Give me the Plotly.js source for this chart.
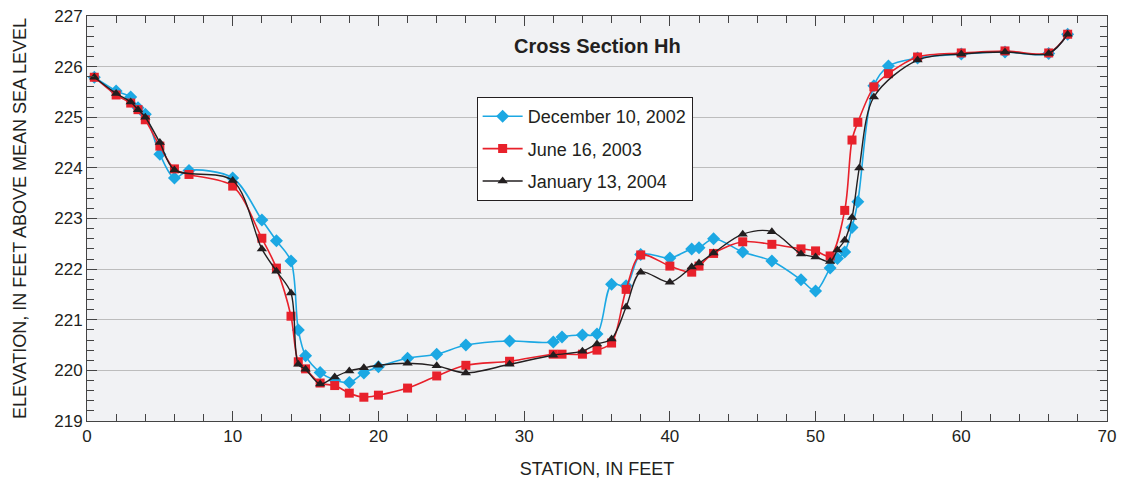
<!DOCTYPE html>
<html>
<head>
<meta charset="utf-8">
<script src="https://cdn.plot.ly/plotly-3.0.1.min.js"></script>
<style>html,body{margin:0;padding:0;background:#fff;}#chart{width:1126px;height:479px;}</style>
</head>
<body>
<div id="chart"></div>
<script>
// December 10, 2002
const decX = [0.5, 2, 3, 3.5, 4, 5, 6, 7, 10, 12, 13, 14, 14.5, 15, 16, 17, 18, 19, 20, 22, 24, 26, 29, 32, 32.6, 34, 35, 36, 37, 38, 40, 41.5, 42, 43, 45, 47, 49, 50, 51, 51.5, 52, 52.5, 52.9, 54, 55, 57, 60, 63, 66, 67.3];
const decY = [225.79, 225.52, 225.40, 225.19, 225.06, 224.27, 223.80, 223.95, 223.80, 222.97, 222.56, 222.16, 220.80, 220.29, 219.96, 219.81, 219.76, 219.95, 220.07, 220.24, 220.32, 220.50, 220.58, 220.56, 220.66, 220.70, 220.72, 221.70, 221.67, 222.29, 222.22, 222.40, 222.42, 222.60, 222.34, 222.16, 221.79, 221.57, 222.02, 222.21, 222.34, 222.82, 223.33, 225.62, 226.01, 226.17, 226.25, 226.29, 226.26, 226.64];
// June 16, 2003
const junX = [0.5, 2, 3, 3.5, 4, 5, 6, 7, 10, 12, 13, 14, 14.5, 15, 16, 17, 18, 19, 20, 22, 24, 26, 29, 32, 32.6, 34, 35, 36, 37, 38, 40, 41.5, 42, 43, 45, 47, 49, 50, 51, 52, 52.5, 52.9, 54, 55, 57, 60, 63, 66, 67.3];
const junY = [225.79, 225.44, 225.28, 225.15, 224.95, 224.43, 223.98, 223.87, 223.64, 222.61, 222.02, 221.07, 220.17, 220.03, 219.75, 219.70, 219.55, 219.47, 219.51, 219.65, 219.89, 220.10, 220.18, 220.32, 220.32, 220.32, 220.40, 220.54, 221.60, 222.28, 222.06, 221.94, 222.06, 222.31, 222.54, 222.49, 222.40, 222.36, 222.26, 223.16, 224.55, 224.90, 225.60, 225.86, 226.19, 226.27, 226.31, 226.27, 226.64];
// January 13, 2004
const janX = [0.5, 2, 3, 3.5, 4, 5, 6, 10, 12, 13, 14, 14.5, 15, 16, 17, 18, 19, 20, 22, 24, 26, 29, 32, 34, 35, 36, 37, 38, 40, 41.5, 42, 43, 45, 47, 49, 50, 51, 51.5, 52, 52.5, 53, 54, 57, 60, 63, 66, 67.3];
const janY = [225.79, 225.47, 225.30, 225.15, 225.00, 224.50, 223.96, 223.75, 222.40, 221.96, 221.53, 220.12, 220.02, 219.73, 219.87, 219.99, 220.05, 220.10, 220.14, 220.09, 219.95, 220.12, 220.30, 220.38, 220.52, 220.62, 221.25, 221.94, 221.74, 222.04, 222.12, 222.32, 222.69, 222.74, 222.30, 222.24, 222.15, 222.38, 222.57, 223.02, 224.00, 225.40, 226.13, 226.25, 226.29, 226.26, 226.64];

const names = ["December 10, 2002", "June 16, 2003", "January 13, 2004"];
const titleText = "Cross Section Hh";
const xTitle = "STATION, IN FEET";
const yTitle = "ELEVATION, IN FEET ABOVE MEAN SEA LEVEL";

const FONT = 'Liberation Sans, Arial, sans-serif';

const traces = [
  {x: decX, y: decY, name: names[0], legendgroup: 'a', mode: 'lines+markers', type: 'scatter',
   line: {color: '#1ca8e3', width: 1.6, shape: 'spline', smoothing: 0.9},
   marker: {symbol: 'diamond', size: 10, color: '#1ca8e3'}},
  {x: junX, y: junY, name: names[1], legendgroup: 'b', mode: 'lines+markers', type: 'scatter',
   line: {color: '#e8212b', width: 1.6, shape: 'spline', smoothing: 0.9},
   marker: {symbol: 'square', size: 9, color: '#e8212b'}},
  {x: janX, y: janY, name: names[2], legendgroup: 'c', mode: 'lines+markers', type: 'scatter',
   line: {color: '#231f20', width: 1.4, shape: 'spline', smoothing: 0.9},
   marker: {symbol: 'triangle-up', size: 9, color: '#231f20'}}
];

const axisCommon = {
  showline: true, linecolor: '#444', linewidth: 1, mirror: 'allticks',
  ticks: 'inside', tickcolor: '#444', ticklen: 10, tickwidth: 1,
  zeroline: false,
  tickfont: {family: FONT, size: 17, color: '#231f20'}
};

const layout = {
  width: 1126, height: 479,
  margin: {l: 87, r: 19, t: 16, b: 58},
  paper_bgcolor: '#ffffff', plot_bgcolor: '#f1f2f4',
  showlegend: true,
  legend: {x: 0.382, y: 0.8, xanchor: 'left', yanchor: 'top',
    bgcolor: '#ffffff', bordercolor: '#231f20', borderwidth: 1,
    font: {family: FONT, size: 18, color: '#231f20'},
    tracegroupgap: 6, itemwidth: 40},
  xaxis: Object.assign({}, axisCommon, {
    range: [0, 70], dtick: 10, tick0: 0, showgrid: false,
    minor: {dtick: 2, ticks: 'inside', ticklen: 7, tickcolor: '#444', showgrid: false},
    title: {text: xTitle, standoff: 16, font: {family: FONT, size: 18, color: '#231f20'}}
  }),
  yaxis: Object.assign({}, axisCommon, {
    range: [219, 227], dtick: 1, tick0: 219, showgrid: true, gridcolor: '#bdbdbd', gridwidth: 1.2,
    minor: {dtick: 0.2, ticks: 'inside', ticklen: 7, tickcolor: '#444', showgrid: false},
    title: {text: yTitle, standoff: 22, font: {family: FONT, size: 18, color: '#231f20'}}
  }),
  annotations: [{
    text: '<b>' + titleText + '</b>', xref: 'paper', yref: 'paper', x: 0.5, y: 0.925,
    xanchor: 'center', yanchor: 'middle', showarrow: false,
    font: {family: FONT, size: 20, color: '#231f20'}
  }]
};

Plotly.newPlot('chart', traces, layout, {displayModeBar: false, staticPlot: true});
</script>
</body>
</html>
